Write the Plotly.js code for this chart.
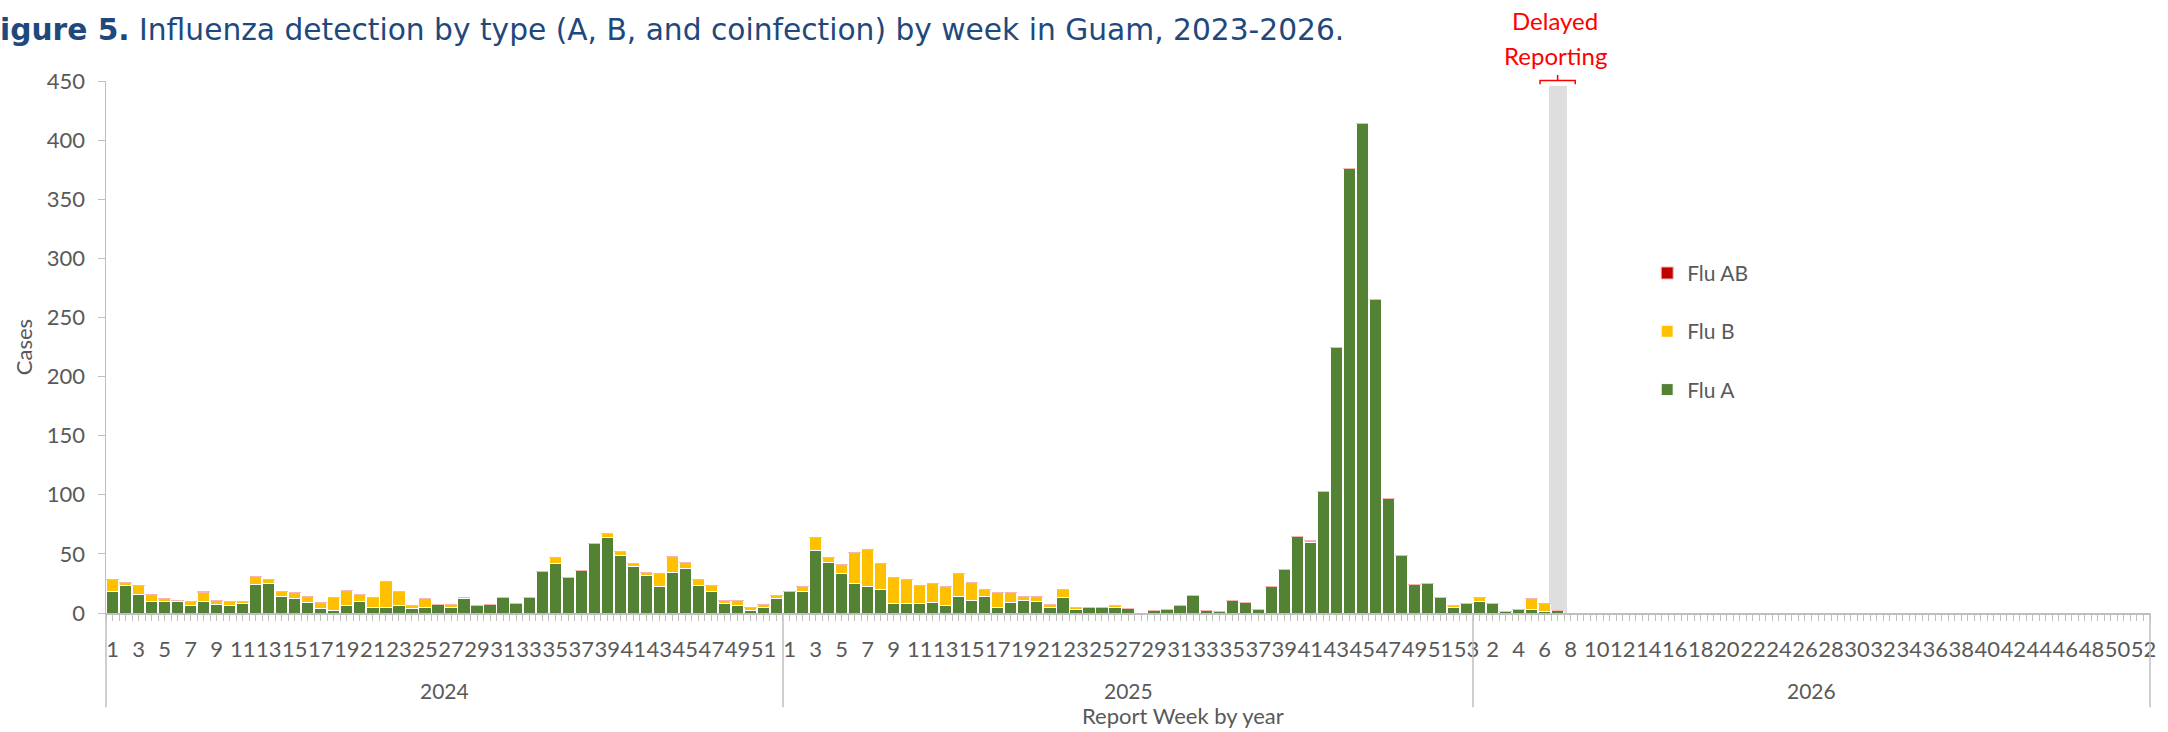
<!DOCTYPE html>
<html><head><meta charset="utf-8">
<script src="https://cdn.plot.ly/plotly-3.0.1.min.js"></script>
<style>html,body{margin:0;padding:0;background:#fff;}#chart{width:2168px;height:732px;}</style>
</head><body><div id="chart"></div>
<script>
// ---------------- data ----------------
const years = ['2024', '2025', '2026'];
const weeksPerYear = [52, 53, 52];

const fluA2024 = [18,23,16,10,10,10,6,10,7,6, 8,24,25,14,12,9,4,2,6,10, 5,5,6,4,5,7,5,12,6,7, 13,8,13,35,42,30,36,59,64,49, 39,32,22,34,38,23,18,8,6,2, 5,12];
const fluB2024 = [10,3,7,6,2,1,4,7,4,4, 2,7,3,4,5,5,5,11,13,6, 8,22,12,2,7,0,2,1,0,0, 0,0,0,0,5,0,0,0,3,3, 3,2,11,14,5,5,5,3,5,3, 2,3];
const fluAB2024 = [0,0,0,0,0,0,0,1,0,0, 0,0,0,0,0,0,0,0,0,0, 0,0,0,0,0,0,0,0,0,0, 0,0,0,0,0,0,0,0,0,0, 0,0,0,0,0,0,0,0,0,0, 0,0];

const fluA2025 = [18,18,53,43,33,25,22,20,8,8, 8,9,6,14,11,14,5,9,11,10, 5,13,3,5,5,5,4,0,2,3, 6,15,2,1,11,9,3,22,37,65, 60,103,225,376,414,265,97,49,24,25, 13,5,8];
const fluB2025 = [0,4,11,4,8,26,32,22,22,20, 15,16,16,19,15,6,12,8,3,4, 2,7,2,0,0,1,0,0,0,0, 0,0,0,0,0,0,0,0,0,0, 1,0,0,0,0,0,0,0,0,0, 0,1,0];
const fluAB2025 = [0,0,0,0,0,0,0,0,0,0, 0,0,0,0,0,0,0,0,0,0, 0,0,0,0,0,0,0,0,0,0, 0,0,0,0,0,0,0,0,0,0, 0,0,0,0,0,0,0,0,0,0, 0,0,0];

const fluA2026 = [10,8,1,3,3,1,2];
const fluB2026 = [3,0,0,0,9,7,0];
const fluAB2026 = [0,0,0,0,0,0,0];

const delayedYear = '2026';
const delayedWeek = 7;
const delayedHeight = 446;
const yMax = 450;

// ---------------- build ----------------
const offsets = [];
let acc = 0;
weeksPerYear.forEach(n => { offsets.push(acc); acc += n; });
const nCats = acc;

function series(perYear) {
  const xs = [], ys = [];
  perYear.forEach((arr, yi) => arr.forEach((v, i) => { xs.push(offsets[yi] + i); ys.push(v); }));
  return {xs, ys};
}
const sA = series([fluA2024, fluA2025, fluA2026]);
const sB = series([fluB2024, fluB2025, fluB2026]);
const sAB = series([fluAB2024, fluAB2025, fluAB2026]);

const tickvals = [], ticktext = [];
for (let c = 0; c < nCats; c += 2) {
  let yi = 0;
  while (yi + 1 < offsets.length && c >= offsets[yi + 1]) yi++;
  tickvals.push(c);
  ticktext.push(String(c - offsets[yi] + 1));
}

const delayedIdx = offsets[years.indexOf(delayedYear)] + delayedWeek - 1;

const FONT = 'Lato, "Open Sans", sans-serif';
const GREY = '#595959';
const AXC = '#BFBFBF';

const barLine = {color: '#FFFFFF', width: 1};
const traces = [
  {type: 'bar', x: [delayedIdx], y: [delayedHeight], width: 1.38, marker: {color: '#DEDEDE'},
   xaxis: 'x', yaxis: 'y', showlegend: false, hoverinfo: 'skip'},
  {type: 'bar', name: 'Flu A', x: sA.xs, y: sA.ys, marker: {color: '#548235', line: barLine},
   xaxis: 'x2', yaxis: 'y2', legendgroup: 'a', legendrank: 3},
  {type: 'bar', name: 'Flu B', x: sB.xs, y: sB.ys, marker: {color: '#FFC000', line: barLine},
   xaxis: 'x2', yaxis: 'y2', legendgroup: 'b', legendrank: 2},
  {type: 'bar', name: 'Flu AB', x: sAB.xs, y: sAB.ys, marker: {color: '#C00000', line: {color: '#F4B6B6', width: 1}},
   xaxis: 'x2', yaxis: 'y2', legendgroup: 'ab', legendrank: 1}
];

// year dividers
const plotBottomLabel = -0.177;
const shapes = [];
offsets.concat([nCats]).forEach(b => {
  shapes.push({type: 'line', xref: 'paper', yref: 'paper', x0: b / nCats, x1: b / nCats, y0: 0, y1: plotBottomLabel,
    line: {color: AXC, width: 1.5}});
});
// bracket for delayed reporting
const bx0 = delayedIdx - 1.35, bx1 = delayedIdx + 1.35;
shapes.push({type: 'path', xref: 'x', yref: 'paper',
  path: `M ${bx0},0.994 L ${bx0},1.001 L ${bx1},1.001 L ${bx1},0.994 M ${delayedIdx},1.001 L ${delayedIdx},1.0113`,
  line: {color: '#FF0000', width: 1.5}});

const annotations = [];
years.forEach((yr, yi) => {
  annotations.push({text: yr, xref: 'x', yref: 'paper', x: offsets[yi] + (weeksPerYear[yi] - 1) / 2, y: -0.1466,
    showarrow: false, xanchor: 'center', yanchor: 'middle', font: {family: FONT, size: 21, color: GREY}});
});
annotations.push({text: 'Report Week by year', xref: 'paper', yref: 'paper', x: 0.527, y: -0.1936,
  showarrow: false, xanchor: 'center', yanchor: 'middle', font: {family: FONT, size: 22, color: GREY}});
annotations.push({text: 'Delayed', xref: 'x', yref: 'paper', x: delayedIdx - 0.2, y: 1.1128,
  showarrow: false, xanchor: 'center', yanchor: 'middle', font: {family: FONT, size: 24, color: '#FF0000'}});
annotations.push({text: 'Reporting', xref: 'x', yref: 'paper', x: delayedIdx - 0.2, y: 1.047,
  showarrow: false, xanchor: 'center', yanchor: 'middle', font: {family: FONT, size: 24, color: '#FF0000'}});

const layout = {
  width: 2168, height: 732,
  margin: {l: 106, r: 18, t: 81, b: 119},
  paper_bgcolor: '#FFFFFF', plot_bgcolor: '#FFFFFF',
  font: {family: FONT, color: GREY},
  barmode: 'stack', bargap: 0.06,
  showlegend: true,
  title: {text: '<b>igure 5.</b> Influenza detection by type (A, B, and coinfection) by week in Guam, 2023-2026.',
    x: 0, xref: 'container', xanchor: 'left', y: 1 - 30 / 732, yref: 'container', yanchor: 'middle',
    pad: {l: 0, r: 0, t: 0, b: 0}, font: {family: '"DejaVu Sans", sans-serif', size: 29.7, color: '#1F497D'}},
  xaxis: {range: [-0.5, nCats - 0.5], tickmode: 'array', tickvals: tickvals, ticktext: ticktext,
    ticks: 'outside', ticklen: 6, tickwidth: 1, tickcolor: AXC, tickangle: 0,
    minor: {tick0: -0.5, dtick: 0.5, ticks: 'outside', ticklen: 6, tickwidth: 1, tickcolor: AXC},
    showline: true, linecolor: AXC, linewidth: 1.5, showgrid: false, zeroline: false,
    ticklabelstandoff: 10, tickfont: {family: FONT, size: 22, color: GREY}, fixedrange: true},
  yaxis: {range: [0, yMax], dtick: 50, ticks: 'outside', ticklen: 7, tickcolor: AXC, tickwidth: 1,
    showline: true, linecolor: AXC, linewidth: 1.5, showgrid: false, zeroline: false,
    ticklabelstandoff: 8, tickfont: {family: FONT, size: 22, color: GREY},
    title: {text: 'Cases', standoff: 8, font: {family: FONT, size: 22, color: GREY}}},
  xaxis2: {overlaying: 'x', range: [-0.5, nCats - 0.5], visible: false, fixedrange: true},
  yaxis2: {overlaying: 'y', range: [0, yMax], visible: false},
  legend: {x: 0.754, xanchor: 'left', y: 0.677, yanchor: 'top', traceorder: 'grouped',
    tracegroupgap: 28, font: {family: FONT, size: 21, color: GREY}, bgcolor: 'rgba(0,0,0,0)'},
  shapes: shapes,
  annotations: annotations
};

Plotly.newPlot('chart', traces, layout, {displayModeBar: false, staticPlot: true});
</script>
</body></html>
